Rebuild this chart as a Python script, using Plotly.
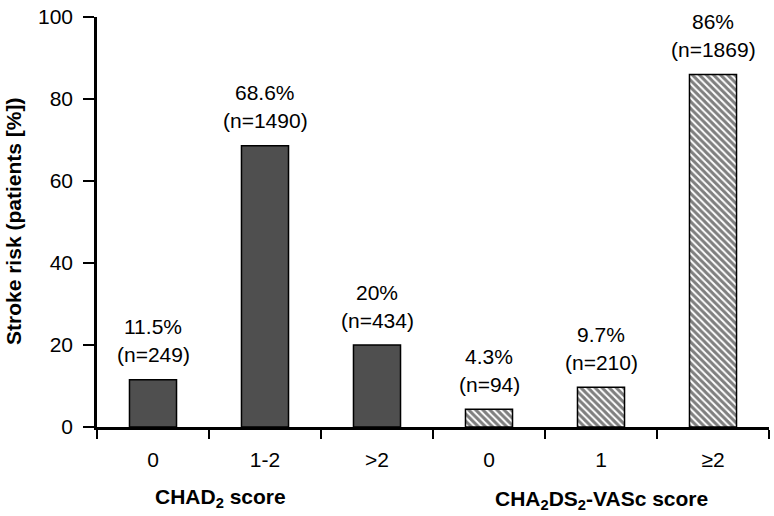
import plotly.graph_objects as go

# Data
tick_labels = ["0", "1-2", ">2", "0", "1", "≥2"]
chads2_values = [11.5, 68.6, 20]
chads2_counts = [249, 1490, 434]
vasc_values = [4.3, 9.7, 86]
vasc_counts = [94, 210, 1869]
group_titles = ["CHAD<sub>2</sub> score", "CHA<sub>2</sub>DS<sub>2</sub>-VASc score"]

pos_all = list(range(len(tick_labels)))
pos_chads = pos_all[:3]
pos_vasc = pos_all[3:]

FONT = "Liberation Sans, Arial, sans-serif"
FS = 21

fig = go.Figure()
fig.add_trace(go.Bar(
    x=pos_chads, y=chads2_values, width=0.42,
    marker=dict(color="#4f4f4f", line=dict(color="black", width=1.5)),
    hoverinfo="skip",
))
fig.add_trace(go.Bar(
    x=pos_vasc, y=vasc_values, width=0.42,
    marker=dict(color="white", line=dict(color="black", width=1.5),
                pattern=dict(shape="\\", fgcolor="black", bgcolor="white",
                             size=5, solidity=0.6, fillmode="overlay")),
    hoverinfo="skip",
))

annotations = []
all_vals = chads2_values + vasc_values
all_counts = chads2_counts + vasc_counts
for p, v, n in zip(pos_all, all_vals, all_counts):
    pct = f"{v:g}%"
    annotations.append(dict(x=p, y=v, xref="x", yref="y", text=pct, showarrow=False,
                            yanchor="middle", yshift=53, font=dict(size=FS, family=FONT, color="black")))
    annotations.append(dict(x=p, y=v, xref="x", yref="y", text=f"(n={n})", showarrow=False,
                            yanchor="middle", yshift=25, font=dict(size=FS, family=FONT, color="black")))

# group titles
annotations.append(dict(x=(153 - 97) / 672, y=(427 - 499) / 414, xref="paper", yref="paper",
                        text="<b>" + group_titles[0] + "</b>", showarrow=False,
                        xanchor="left", yanchor="middle", font=dict(size=FS, family=FONT, color="black")))
annotations.append(dict(x=(493 - 97) / 672, y=(427 - 501) / 414, xref="paper", yref="paper",
                        text="<b>" + group_titles[1] + "</b>", showarrow=False,
                        xanchor="left", yanchor="middle", font=dict(size=FS, family=FONT, color="black")))
# y title
annotations.append(dict(x=(13 - 97) / 672, y=0.5, xref="paper", yref="paper",
                        text="<b>Stroke risk (patients [%])</b>", showarrow=False, textangle=-90,
                        xanchor="center", yanchor="middle", font=dict(size=FS, family=FONT, color="black")))

fig.update_layout(
    width=774, height=516,
    margin=dict(l=97, r=5, t=13, b=89),
    paper_bgcolor="white", plot_bgcolor="white",
    showlegend=False,
    annotations=annotations,
    font=dict(family=FONT, size=FS, color="black"),
)
fig.update_xaxes(
    range=[-0.5, 5.5], tickmode="array", tickvals=pos_all, ticktext=tick_labels,
    ticks="", showline=True, linecolor="black", linewidth=2.5, showgrid=False, zeroline=False,
    ticklabelstandoff=12,
    tickfont=dict(size=FS, family=FONT, color="black"),
    minor=dict(tickvals=[i - 0.5 for i in range(len(tick_labels) + 1)], ticks="outside",
               ticklen=9, tickwidth=2, tickcolor="black", showgrid=False),
)
fig.update_yaxes(
    range=[0, 100], tickvals=[0, 20, 40, 60, 80, 100], ticks="outside", ticklen=11, tickwidth=2,
    tickcolor="black", showline=True, linecolor="black", linewidth=2.5, showgrid=False, zeroline=False,
    ticklabelstandoff=6,
    tickfont=dict(size=FS, family=FONT, color="black"),
)

fig.write_html("out.html", config={"displayModeBar": False},
               post_script="document.body.style.margin='0';document.body.style.padding='0';")
